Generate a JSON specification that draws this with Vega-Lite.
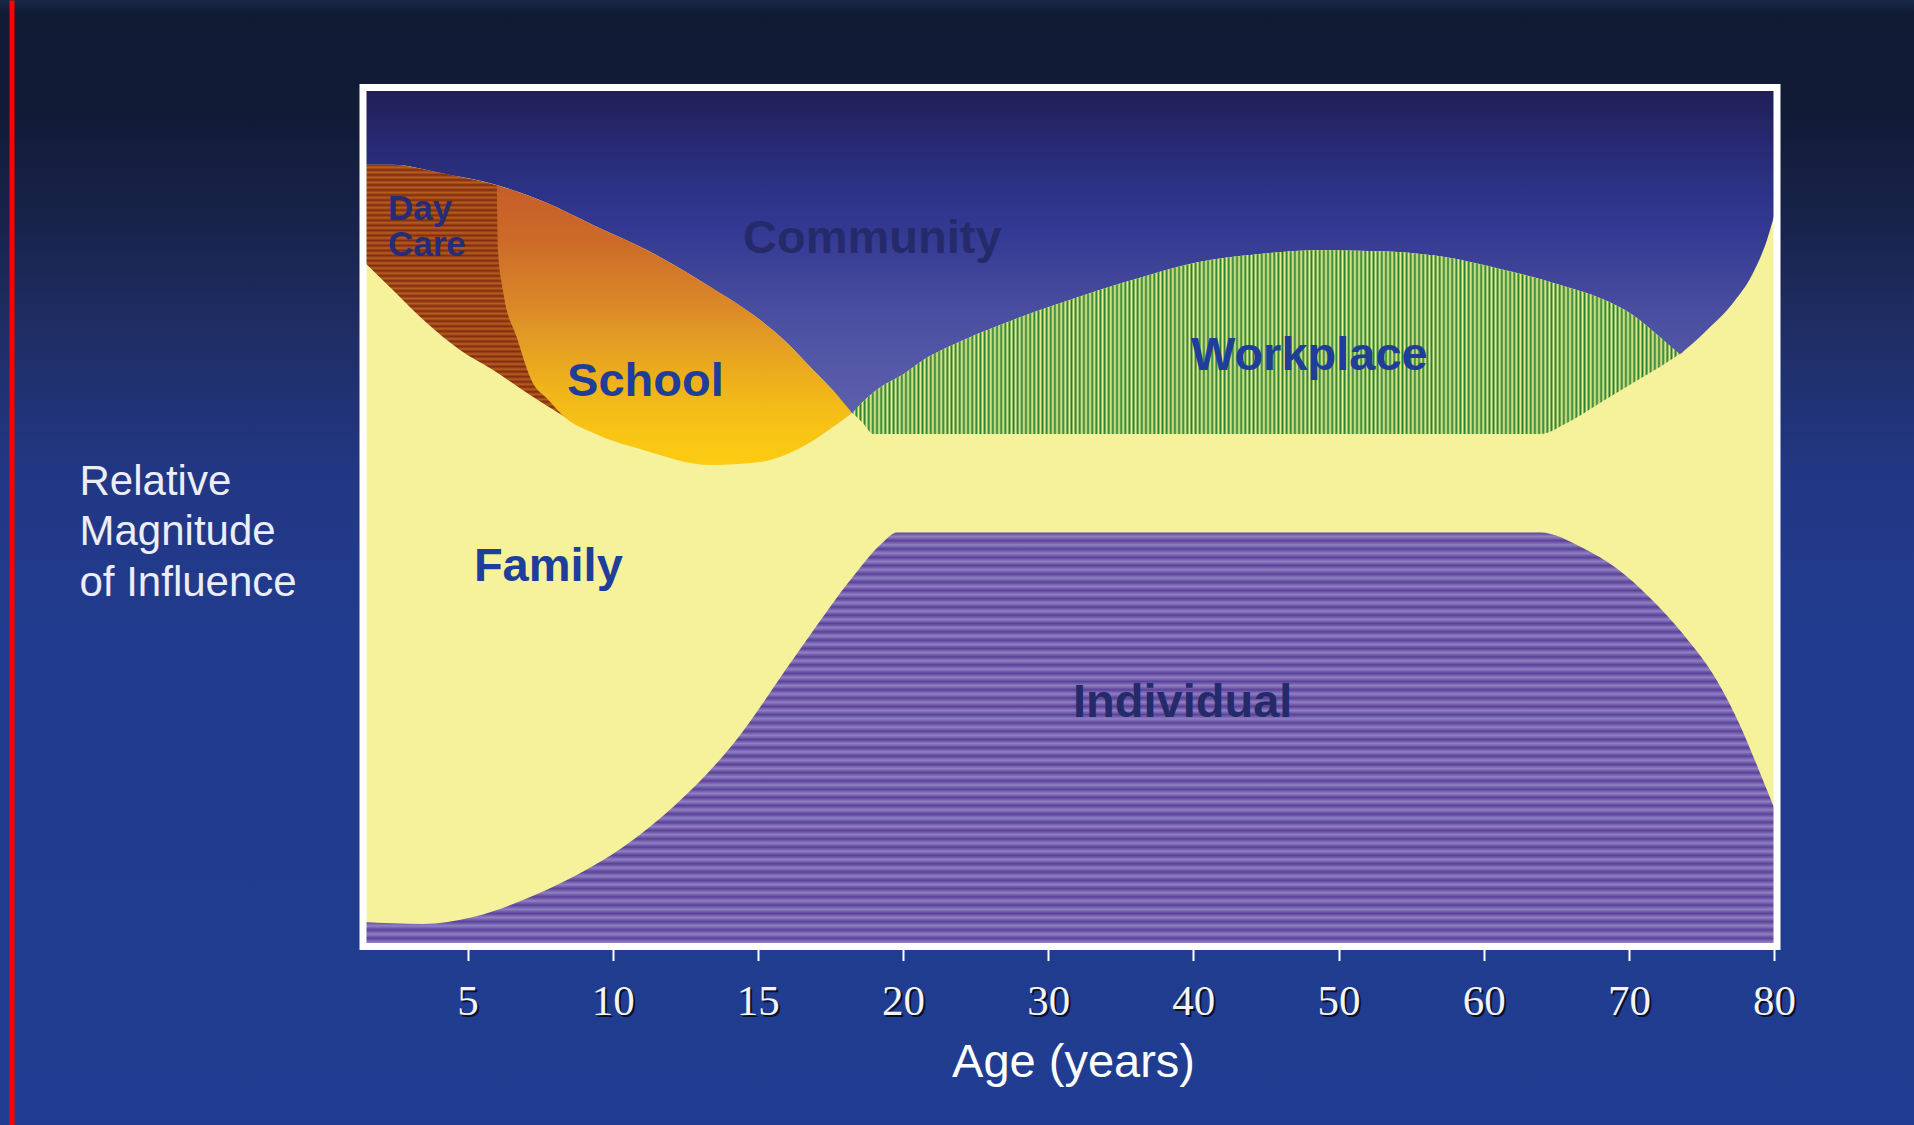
{
"$schema":"https://vega.github.io/schema/vega-lite/v6.json",
"width":1914,"height":1125,"autosize":"none","padding":0,
"background":"#1a2b62",
"view":{"stroke":null,"fill":{"gradient":"linear","x1":0,"y1":0,"x2":0,"y2":1,"stops":[{"offset":0,"color":"#1a2848"},{"offset":0.012,"color":"#101a33"},{"offset":0.1,"color":"#111b36"},{"offset":0.2,"color":"#18234c"},{"offset":0.3,"color":"#1f2e66"},{"offset":0.42,"color":"#223784"},{"offset":0.55,"color":"#213b8d"},{"offset":1,"color":"#203d91"}]}},
"datasets":{
"family":[{"age":1.4,"top":91.0},{"age":2.43,"top":91.0},{"age":4.05,"top":90.05},{"age":6.01,"top":88.65},{"age":7.74,"top":86.55},{"age":9.32,"top":84.0},{"age":11.18,"top":81.08},{"age":13.36,"top":76.78},{"age":15.08,"top":72.93},{"age":16.0,"top":70.3},{"age":16.91,"top":67.1},{"age":17.6,"top":64.7},{"age":18.25,"top":62.1},{"age":18.6,"top":63.35},{"age":18.98,"top":64.5},{"age":19.22,"top":65.1},{"age":20.0,"top":66.6},{"age":21.4,"top":68.28},{"age":24.3,"top":70.7},{"age":27.59,"top":72.95},{"age":30.5,"top":74.7},{"age":33.47,"top":76.4},{"age":36.8,"top":78.1},{"age":40.2,"top":79.63},{"age":44.4,"top":80.6},{"age":48.6,"top":81.06},{"age":52.8,"top":80.95},{"age":57.0,"top":80.35},{"age":61.12,"top":78.88},{"age":63.39,"top":77.94},{"age":63.88,"top":77.7},{"age":65.73,"top":76.78},{"age":68.0,"top":75.49},{"age":70.27,"top":73.52},{"age":72.13,"top":70.95},{"age":73.5,"top":68.97},{"age":73.9,"top":69.5},{"age":75.38,"top":71.77},{"age":77.17,"top":74.91},{"age":78.55,"top":78.41},{"age":79.51,"top":82.25},{"age":80.2,"top":86.3}],
"individual":[{"age":1.4,"top":2.85},{"age":3.46,"top":2.62},{"age":5.19,"top":3.43},{"age":6.91,"top":5.41},{"age":8.63,"top":8.09},{"age":10.36,"top":11.58},{"age":12.08,"top":16.24},{"age":14.12,"top":23.46},{"age":16.22,"top":33.47},{"age":18.35,"top":43.36},{"age":19.2,"top":46.7},{"age":19.8,"top":48.2},{"age":63.88,"top":48.2},{"age":66.83,"top":46.4},{"age":69.17,"top":44.0},{"age":71.44,"top":40.6},{"age":73.71,"top":36.4},{"age":76.05,"top":31.0},{"age":77.64,"top":25.8},{"age":79.01,"top":20.3},{"age":79.92,"top":16.5},{"age":80.2,"top":15.3}],
"daycare":[{"age":1.4,"top":91.0,"bottom":79.84},{"age":2.43,"top":91.0,"bottom":76.43},{"age":3.6,"top":90.4,"bottom":72.58},{"age":4.74,"top":89.6,"bottom":69.44},{"age":5.88,"top":88.75,"bottom":67.11},{"age":7.05,"top":87.4,"bottom":64.43},{"age":8.36,"top":85.6,"bottom":61.64}],
"school":[{"age":6.01,"top":88.65,"bottom":88.6},{"age":6.05,"top":88.6,"bottom":81.1},{"age":6.22,"top":88.4,"bottom":76.4},{"age":6.7,"top":87.9,"bottom":70.9},{"age":7.25,"top":87.2,"bottom":65.6},{"age":7.74,"top":86.55,"bottom":63.8},{"age":8.36,"top":85.6,"bottom":61.6},{"age":9.32,"top":84.0,"bottom":59.8},{"age":11.05,"top":81.3,"bottom":57.8},{"age":13.36,"top":76.8,"bottom":56.05},{"age":15.08,"top":72.93,"bottom":56.4},{"age":16.0,"top":70.3,"bottom":57.3},{"age":16.91,"top":67.1,"bottom":58.9},{"age":17.6,"top":64.7,"bottom":60.5},{"age":18.25,"top":62.1,"bottom":62.1}],
"workplace":[{"age":18.25,"top":62.1,"bottom":62.1},{"age":18.6,"top":63.35,"bottom":61.0},{"age":18.98,"top":64.5,"bottom":59.66},{"age":19.22,"top":65.1,"bottom":59.66},{"age":20.0,"top":66.6,"bottom":59.66},{"age":21.4,"top":68.28,"bottom":59.66},{"age":24.3,"top":70.7,"bottom":59.66},{"age":27.59,"top":72.95,"bottom":59.66},{"age":30.5,"top":74.7,"bottom":59.66},{"age":33.47,"top":76.4,"bottom":59.66},{"age":36.8,"top":78.1,"bottom":59.66},{"age":40.2,"top":79.63,"bottom":59.66},{"age":44.4,"top":80.6,"bottom":59.66},{"age":48.6,"top":81.06,"bottom":59.66},{"age":52.8,"top":80.95,"bottom":59.66},{"age":57.0,"top":80.35,"bottom":59.66},{"age":61.12,"top":78.88,"bottom":59.66},{"age":63.39,"top":77.94,"bottom":59.66},{"age":63.88,"top":77.7,"bottom":59.66},{"age":65.73,"top":76.78,"bottom":60.94},{"age":68.0,"top":75.49,"bottom":63.27},{"age":70.27,"top":73.52,"bottom":65.6},{"age":72.13,"top":70.95,"bottom":67.46},{"age":73.5,"top":68.97,"bottom":68.97}],
"labels":[{"label":"Community","age":14.49,"val":80.73,"grp":"navy"},{"label":"Individual","age":31.71,"val":26.72,"grp":"navy"},{"label":"School","age":8.43,"val":64.09,"grp":"blue"},{"label":"Family","age":5.22,"val":42.55,"grp":"blue"},{"label":"Workplace","age":39.83,"val":67.11,"grp":"blue"},{"label":"Day\nCare","age":2.26,"val":84.57,"grp":"day"}]
},
"resolve":{"axis":{"x":"independent","y":"independent"}},
"layer":[
{"data":{"values":[{}]},
"mark":{"type":"rect","stroke":null,"fill":{"gradient":"linear","x1":0,"y1":0,"x2":0,"y2":1,"stops":[{"offset":0,"color":"#211d55"},{"offset":0.07,"color":"#272a74"},{"offset":0.13,"color":"#2d3489"},{"offset":0.17,"color":"#343a93"},{"offset":0.21,"color":"#3e4298"},{"offset":0.25,"color":"#484c9f"},{"offset":0.31,"color":"#5256a6"},{"offset":0.37,"color":"#5a5eab"},{"offset":0.43,"color":"#5e62ae"},{"offset":1,"color":"#6266b1"}]}},
"encoding":{
"x":{"datum":1.4,"type":"quantitative","scale":{"type":"linear","domain":[1.4,20,80.2],"range":[363,903,1777],"nice":false,"zero":false},"axis":null},
"x2":{"datum":80.2},
"y":{"datum":0,"type":"quantitative","scale":{"domain":[-20.78,110.19],"nice":false,"zero":false},"axis":null},
"y2":{"datum":100}}},
{"data":{"name":"family"},
"mark":{"type":"area","interpolate":"monotone","fill":"#f6f29b","stroke":null},
"encoding":{
"x":{"field":"age","type":"quantitative","scale":{"type":"linear","domain":[1.4,20,80.2],"range":[363,903,1777],"nice":false,"zero":false},
"axis":{"orient":"bottom","offset":-178.5,"values":[5,10,15,20,30,40,50,60,70,80],"domain":false,"grid":false,"ticks":true,"tickOpacity":0,"tickSize":14,"labelPadding":21.5,"labelOffset":2,"labelColor":"#0a1028","labelFont":"Liberation Serif","labelFontSize":43,"labelFlush":false,"labelOverlap":false,"title":null}},
"y":{"field":"top","type":"quantitative","scale":{"domain":[-20.78,110.19],"nice":false,"zero":false},
"axis":{"orient":"left","offset":-11.5,"domain":true,"domainColor":"#ff0000","domainWidth":5,"ticks":false,"labels":false,"grid":false,"title":["Relative","Magnitude","of Influence"],"titleAngle":0,"titleAlign":"left","titleBaseline":"alphabetic","titleX":67.5,"titleY":494,"titleFont":"Liberation Sans","titleFontSize":42,"titleFontWeight":"normal","titleColor":"#ecedf6","titleLineHeight":50.5}},
"y2":{"datum":0}}},
{"data":{"name":"individual"},
"mark":{"type":"area","interpolate":"monotone","stroke":null,"fill":{"gradient":"linear","x1":0,"y1":0,"x2":0,"y2":1,"stops":[{"offset":0,"color":"#5b4199"},{"offset":0.01,"color":"#8f80c3"},{"offset":0.02,"color":"#5b4199"},{"offset":0.03,"color":"#8f80c3"},{"offset":0.04,"color":"#5b4199"},{"offset":0.05,"color":"#8f80c3"},{"offset":0.06,"color":"#5b4199"},{"offset":0.07,"color":"#8f80c3"},{"offset":0.08,"color":"#5b4199"},{"offset":0.09,"color":"#8f80c3"},{"offset":0.1,"color":"#5b4199"},{"offset":0.11,"color":"#8f80c3"},{"offset":0.12,"color":"#5b4199"},{"offset":0.13,"color":"#8f80c3"},{"offset":0.14,"color":"#5b4199"},{"offset":0.15,"color":"#8f80c3"},{"offset":0.16,"color":"#5b4199"},{"offset":0.17,"color":"#8f80c3"},{"offset":0.18,"color":"#5b4199"},{"offset":0.19,"color":"#8f80c3"},{"offset":0.2,"color":"#5b4199"},{"offset":0.21,"color":"#8f80c3"},{"offset":0.22,"color":"#5b4199"},{"offset":0.23,"color":"#8f80c3"},{"offset":0.24,"color":"#5b4199"},{"offset":0.25,"color":"#8f80c3"},{"offset":0.26,"color":"#5b4199"},{"offset":0.27,"color":"#8f80c3"},{"offset":0.28,"color":"#5b4199"},{"offset":0.29,"color":"#8f80c3"},{"offset":0.3,"color":"#5b4199"},{"offset":0.31,"color":"#8f80c3"},{"offset":0.32,"color":"#5b4199"},{"offset":0.33,"color":"#8f80c3"},{"offset":0.34,"color":"#5b4199"},{"offset":0.35,"color":"#8f80c3"},{"offset":0.36,"color":"#5b4199"},{"offset":0.37,"color":"#8f80c3"},{"offset":0.38,"color":"#5b4199"},{"offset":0.39,"color":"#8f80c3"},{"offset":0.4,"color":"#5b4199"},{"offset":0.41,"color":"#8f80c3"},{"offset":0.42,"color":"#5b4199"},{"offset":0.43,"color":"#8f80c3"},{"offset":0.44,"color":"#5b4199"},{"offset":0.45,"color":"#8f80c3"},{"offset":0.46,"color":"#5b4199"},{"offset":0.47,"color":"#8f80c3"},{"offset":0.48,"color":"#5b4199"},{"offset":0.49,"color":"#8f80c3"},{"offset":0.5,"color":"#5b4199"},{"offset":0.51,"color":"#8f80c3"},{"offset":0.52,"color":"#5b4199"},{"offset":0.53,"color":"#8f80c3"},{"offset":0.54,"color":"#5b4199"},{"offset":0.55,"color":"#8f80c3"},{"offset":0.56,"color":"#5b4199"},{"offset":0.57,"color":"#8f80c3"},{"offset":0.58,"color":"#5b4199"},{"offset":0.59,"color":"#8f80c3"},{"offset":0.6,"color":"#5b4199"},{"offset":0.61,"color":"#8f80c3"},{"offset":0.62,"color":"#5b4199"},{"offset":0.63,"color":"#8f80c3"},{"offset":0.64,"color":"#5b4199"},{"offset":0.65,"color":"#8f80c3"},{"offset":0.66,"color":"#5b4199"},{"offset":0.67,"color":"#8f80c3"},{"offset":0.68,"color":"#5b4199"},{"offset":0.69,"color":"#8f80c3"},{"offset":0.7,"color":"#5b4199"},{"offset":0.71,"color":"#8f80c3"},{"offset":0.72,"color":"#5b4199"},{"offset":0.73,"color":"#8f80c3"},{"offset":0.74,"color":"#5b4199"},{"offset":0.75,"color":"#8f80c3"},{"offset":0.76,"color":"#5b4199"},{"offset":0.77,"color":"#8f80c3"},{"offset":0.78,"color":"#5b4199"},{"offset":0.79,"color":"#8f80c3"},{"offset":0.8,"color":"#5b4199"},{"offset":0.81,"color":"#8f80c3"},{"offset":0.82,"color":"#5b4199"},{"offset":0.83,"color":"#8f80c3"},{"offset":0.84,"color":"#5b4199"},{"offset":0.85,"color":"#8f80c3"},{"offset":0.86,"color":"#5b4199"},{"offset":0.87,"color":"#8f80c3"},{"offset":0.88,"color":"#5b4199"},{"offset":0.89,"color":"#8f80c3"},{"offset":0.9,"color":"#5b4199"},{"offset":0.91,"color":"#8f80c3"},{"offset":0.92,"color":"#5b4199"},{"offset":0.93,"color":"#8f80c3"},{"offset":0.94,"color":"#5b4199"},{"offset":0.95,"color":"#8f80c3"},{"offset":0.96,"color":"#5b4199"},{"offset":0.97,"color":"#8f80c3"},{"offset":0.98,"color":"#5b4199"},{"offset":0.99,"color":"#8f80c3"},{"offset":1,"color":"#5b4199"}]}},
"encoding":{
"x":{"field":"age","type":"quantitative","scale":{"type":"linear","domain":[1.4,20,80.2],"range":[363,903,1777],"nice":false,"zero":false},
"axis":{"orient":"bottom","offset":-178.5,"values":[5,10,15,20,30,40,50,60,70,80],"domain":false,"grid":false,"tickColor":"#ffffff","tickWidth":2,"tickSize":14,"labelPadding":19.5,"labelColor":"#f4f4f4","labelFont":"Liberation Serif","labelFontSize":43,"labelFlush":false,"labelOverlap":false,"title":"Age (years)","titleFont":"Liberation Sans","titleFontSize":47,"titleFontWeight":"normal","titleColor":"#ffffff","titleX":1073,"titleY":130,"titleAlign":"center","titleBaseline":"alphabetic"}},
"y":{"field":"top","type":"quantitative","scale":{"domain":[-20.78,110.19],"nice":false,"zero":false},"axis":null},
"y2":{"datum":0}}},
{"data":{"name":"daycare"},
"mark":{"type":"area","interpolate":"monotone","stroke":null,"fill":{"gradient":"linear","x1":0,"y1":0,"x2":0,"y2":1,"stops":[{"offset":0,"color":"#842a10"},{"offset":0.01,"color":"#b4601e"},{"offset":0.02,"color":"#842a10"},{"offset":0.03,"color":"#b4601e"},{"offset":0.04,"color":"#842a10"},{"offset":0.05,"color":"#b4601e"},{"offset":0.06,"color":"#842a10"},{"offset":0.07,"color":"#b4601e"},{"offset":0.08,"color":"#842a10"},{"offset":0.09,"color":"#b4601e"},{"offset":0.1,"color":"#842a10"},{"offset":0.11,"color":"#b4601e"},{"offset":0.12,"color":"#842a10"},{"offset":0.13,"color":"#b4601e"},{"offset":0.14,"color":"#842a10"},{"offset":0.15,"color":"#b4601e"},{"offset":0.16,"color":"#842a10"},{"offset":0.17,"color":"#b4601e"},{"offset":0.18,"color":"#842a10"},{"offset":0.19,"color":"#b4601e"},{"offset":0.2,"color":"#842a10"},{"offset":0.21,"color":"#b4601e"},{"offset":0.22,"color":"#842a10"},{"offset":0.23,"color":"#b4601e"},{"offset":0.24,"color":"#842a10"},{"offset":0.25,"color":"#b4601e"},{"offset":0.26,"color":"#842a10"},{"offset":0.27,"color":"#b4601e"},{"offset":0.28,"color":"#842a10"},{"offset":0.29,"color":"#b4601e"},{"offset":0.3,"color":"#842a10"},{"offset":0.31,"color":"#b4601e"},{"offset":0.32,"color":"#842a10"},{"offset":0.33,"color":"#b4601e"},{"offset":0.34,"color":"#842a10"},{"offset":0.35,"color":"#b4601e"},{"offset":0.36,"color":"#842a10"},{"offset":0.37,"color":"#b4601e"},{"offset":0.38,"color":"#842a10"},{"offset":0.39,"color":"#b4601e"},{"offset":0.4,"color":"#842a10"},{"offset":0.41,"color":"#b4601e"},{"offset":0.42,"color":"#842a10"},{"offset":0.43,"color":"#b4601e"},{"offset":0.44,"color":"#842a10"},{"offset":0.45,"color":"#b4601e"},{"offset":0.46,"color":"#842a10"},{"offset":0.47,"color":"#b4601e"},{"offset":0.48,"color":"#842a10"},{"offset":0.49,"color":"#b4601e"},{"offset":0.5,"color":"#842a10"},{"offset":0.51,"color":"#b4601e"},{"offset":0.52,"color":"#842a10"},{"offset":0.53,"color":"#b4601e"},{"offset":0.54,"color":"#842a10"},{"offset":0.55,"color":"#b4601e"},{"offset":0.56,"color":"#842a10"},{"offset":0.57,"color":"#b4601e"},{"offset":0.58,"color":"#842a10"},{"offset":0.59,"color":"#b4601e"},{"offset":0.6,"color":"#842a10"},{"offset":0.61,"color":"#b4601e"},{"offset":0.62,"color":"#842a10"},{"offset":0.63,"color":"#b4601e"},{"offset":0.64,"color":"#842a10"},{"offset":0.65,"color":"#b4601e"},{"offset":0.66,"color":"#842a10"},{"offset":0.67,"color":"#b4601e"},{"offset":0.68,"color":"#842a10"},{"offset":0.69,"color":"#b4601e"},{"offset":0.7,"color":"#842a10"},{"offset":0.71,"color":"#b4601e"},{"offset":0.72,"color":"#842a10"},{"offset":0.73,"color":"#b4601e"},{"offset":0.74,"color":"#842a10"},{"offset":0.75,"color":"#b4601e"},{"offset":0.76,"color":"#842a10"},{"offset":0.77,"color":"#b4601e"},{"offset":0.78,"color":"#842a10"},{"offset":0.79,"color":"#b4601e"},{"offset":0.8,"color":"#842a10"},{"offset":0.81,"color":"#b4601e"},{"offset":0.82,"color":"#842a10"},{"offset":0.83,"color":"#b4601e"},{"offset":0.84,"color":"#842a10"},{"offset":0.85,"color":"#b4601e"},{"offset":0.86,"color":"#842a10"},{"offset":0.87,"color":"#b4601e"},{"offset":0.88,"color":"#842a10"},{"offset":0.89,"color":"#b4601e"},{"offset":0.9,"color":"#842a10"},{"offset":0.91,"color":"#b4601e"},{"offset":0.92,"color":"#842a10"},{"offset":0.93,"color":"#b4601e"},{"offset":0.94,"color":"#842a10"},{"offset":0.95,"color":"#b4601e"},{"offset":0.96,"color":"#842a10"},{"offset":0.97,"color":"#b4601e"},{"offset":0.98,"color":"#842a10"},{"offset":0.99,"color":"#b4601e"},{"offset":1,"color":"#842a10"}]}},
"encoding":{
"x":{"field":"age","type":"quantitative","scale":{"type":"linear","domain":[1.4,20,80.2],"range":[363,903,1777],"nice":false,"zero":false},"axis":null},
"y":{"field":"top","type":"quantitative","scale":{"domain":[-20.78,110.19],"nice":false,"zero":false},"axis":null},
"y2":{"field":"bottom"}}},
{"data":{"name":"school"},
"mark":{"type":"area","interpolate":"monotone","stroke":null,"fill":{"gradient":"linear","x1":0,"y1":0,"x2":0,"y2":1,"stops":[{"offset":0,"color":"#c65d2a"},{"offset":0.2,"color":"#cd6a28"},{"offset":0.4,"color":"#d98428"},{"offset":0.55,"color":"#e39c24"},{"offset":0.72,"color":"#efb31b"},{"offset":0.87,"color":"#f8c315"},{"offset":1,"color":"#fccb12"}]}},
"encoding":{
"x":{"field":"age","type":"quantitative","scale":{"type":"linear","domain":[1.4,20,80.2],"range":[363,903,1777],"nice":false,"zero":false},"axis":null},
"y":{"field":"top","type":"quantitative","scale":{"domain":[-20.78,110.19],"nice":false,"zero":false},"axis":null},
"y2":{"field":"bottom"}}},
{"data":{"name":"workplace"},
"mark":{"type":"area","interpolate":"monotone","stroke":null,"fill":{"gradient":"linear","x1":0,"y1":0,"x2":1,"y2":0,"stops":[
{"offset":0,"color":"#1e8034"},{"offset":0.0025,"color":"#f2ee8e"},{"offset":0.005,"color":"#1e8034"},{"offset":0.0075,"color":"#f2ee8e"},
{"offset":0.01,"color":"#1e8034"},{"offset":0.0125,"color":"#f2ee8e"},{"offset":0.015,"color":"#1e8034"},{"offset":0.0175,"color":"#f2ee8e"},
{"offset":0.02,"color":"#1e8034"},{"offset":0.0225,"color":"#f2ee8e"},{"offset":0.025,"color":"#1e8034"},{"offset":0.0275,"color":"#f2ee8e"},
{"offset":0.03,"color":"#1e8034"},{"offset":0.0325,"color":"#f2ee8e"},{"offset":0.035,"color":"#1e8034"},{"offset":0.0375,"color":"#f2ee8e"},
{"offset":0.04,"color":"#1e8034"},{"offset":0.0425,"color":"#f2ee8e"},{"offset":0.045,"color":"#1e8034"},{"offset":0.0475,"color":"#f2ee8e"},
{"offset":0.05,"color":"#1e8034"},{"offset":0.0525,"color":"#f2ee8e"},{"offset":0.055,"color":"#1e8034"},{"offset":0.0575,"color":"#f2ee8e"},
{"offset":0.06,"color":"#1e8034"},{"offset":0.0625,"color":"#f2ee8e"},{"offset":0.065,"color":"#1e8034"},{"offset":0.0675,"color":"#f2ee8e"},
{"offset":0.07,"color":"#1e8034"},{"offset":0.0725,"color":"#f2ee8e"},{"offset":0.075,"color":"#1e8034"},{"offset":0.0775,"color":"#f2ee8e"},
{"offset":0.08,"color":"#1e8034"},{"offset":0.0825,"color":"#f2ee8e"},{"offset":0.085,"color":"#1e8034"},{"offset":0.0875,"color":"#f2ee8e"},
{"offset":0.09,"color":"#1e8034"},{"offset":0.0925,"color":"#f2ee8e"},{"offset":0.095,"color":"#1e8034"},{"offset":0.0975,"color":"#f2ee8e"},
{"offset":0.1,"color":"#1e8034"},{"offset":0.1025,"color":"#f2ee8e"},{"offset":0.105,"color":"#1e8034"},{"offset":0.1075,"color":"#f2ee8e"},
{"offset":0.11,"color":"#1e8034"},{"offset":0.1125,"color":"#f2ee8e"},{"offset":0.115,"color":"#1e8034"},{"offset":0.1175,"color":"#f2ee8e"},
{"offset":0.12,"color":"#1e8034"},{"offset":0.1225,"color":"#f2ee8e"},{"offset":0.125,"color":"#1e8034"},{"offset":0.1275,"color":"#f2ee8e"},
{"offset":0.13,"color":"#1e8034"},{"offset":0.1325,"color":"#f2ee8e"},{"offset":0.135,"color":"#1e8034"},{"offset":0.1375,"color":"#f2ee8e"},
{"offset":0.14,"color":"#1e8034"},{"offset":0.1425,"color":"#f2ee8e"},{"offset":0.145,"color":"#1e8034"},{"offset":0.1475,"color":"#f2ee8e"},
{"offset":0.15,"color":"#1e8034"},{"offset":0.1525,"color":"#f2ee8e"},{"offset":0.155,"color":"#1e8034"},{"offset":0.1575,"color":"#f2ee8e"},
{"offset":0.16,"color":"#1e8034"},{"offset":0.1625,"color":"#f2ee8e"},{"offset":0.165,"color":"#1e8034"},{"offset":0.1675,"color":"#f2ee8e"},
{"offset":0.17,"color":"#1e8034"},{"offset":0.1725,"color":"#f2ee8e"},{"offset":0.175,"color":"#1e8034"},{"offset":0.1775,"color":"#f2ee8e"},
{"offset":0.18,"color":"#1e8034"},{"offset":0.1825,"color":"#f2ee8e"},{"offset":0.185,"color":"#1e8034"},{"offset":0.1875,"color":"#f2ee8e"},
{"offset":0.19,"color":"#1e8034"},{"offset":0.1925,"color":"#f2ee8e"},{"offset":0.195,"color":"#1e8034"},{"offset":0.1975,"color":"#f2ee8e"},
{"offset":0.2,"color":"#1e8034"},{"offset":0.2025,"color":"#f2ee8e"},{"offset":0.205,"color":"#1e8034"},{"offset":0.2075,"color":"#f2ee8e"},
{"offset":0.21,"color":"#1e8034"},{"offset":0.2125,"color":"#f2ee8e"},{"offset":0.215,"color":"#1e8034"},{"offset":0.2175,"color":"#f2ee8e"},
{"offset":0.22,"color":"#1e8034"},{"offset":0.2225,"color":"#f2ee8e"},{"offset":0.225,"color":"#1e8034"},{"offset":0.2275,"color":"#f2ee8e"},
{"offset":0.23,"color":"#1e8034"},{"offset":0.2325,"color":"#f2ee8e"},{"offset":0.235,"color":"#1e8034"},{"offset":0.2375,"color":"#f2ee8e"},
{"offset":0.24,"color":"#1e8034"},{"offset":0.2425,"color":"#f2ee8e"},{"offset":0.245,"color":"#1e8034"},{"offset":0.2475,"color":"#f2ee8e"},
{"offset":0.25,"color":"#1e8034"},{"offset":0.2525,"color":"#f2ee8e"},{"offset":0.255,"color":"#1e8034"},{"offset":0.2575,"color":"#f2ee8e"},
{"offset":0.26,"color":"#1e8034"},{"offset":0.2625,"color":"#f2ee8e"},{"offset":0.265,"color":"#1e8034"},{"offset":0.2675,"color":"#f2ee8e"},
{"offset":0.27,"color":"#1e8034"},{"offset":0.2725,"color":"#f2ee8e"},{"offset":0.275,"color":"#1e8034"},{"offset":0.2775,"color":"#f2ee8e"},
{"offset":0.28,"color":"#1e8034"},{"offset":0.2825,"color":"#f2ee8e"},{"offset":0.285,"color":"#1e8034"},{"offset":0.2875,"color":"#f2ee8e"},
{"offset":0.29,"color":"#1e8034"},{"offset":0.2925,"color":"#f2ee8e"},{"offset":0.295,"color":"#1e8034"},{"offset":0.2975,"color":"#f2ee8e"},
{"offset":0.3,"color":"#1e8034"},{"offset":0.3025,"color":"#f2ee8e"},{"offset":0.305,"color":"#1e8034"},{"offset":0.3075,"color":"#f2ee8e"},
{"offset":0.31,"color":"#1e8034"},{"offset":0.3125,"color":"#f2ee8e"},{"offset":0.315,"color":"#1e8034"},{"offset":0.3175,"color":"#f2ee8e"},
{"offset":0.32,"color":"#1e8034"},{"offset":0.3225,"color":"#f2ee8e"},{"offset":0.325,"color":"#1e8034"},{"offset":0.3275,"color":"#f2ee8e"},
{"offset":0.33,"color":"#1e8034"},{"offset":0.3325,"color":"#f2ee8e"},{"offset":0.335,"color":"#1e8034"},{"offset":0.3375,"color":"#f2ee8e"},
{"offset":0.34,"color":"#1e8034"},{"offset":0.3425,"color":"#f2ee8e"},{"offset":0.345,"color":"#1e8034"},{"offset":0.3475,"color":"#f2ee8e"},
{"offset":0.35,"color":"#1e8034"},{"offset":0.3525,"color":"#f2ee8e"},{"offset":0.355,"color":"#1e8034"},{"offset":0.3575,"color":"#f2ee8e"},
{"offset":0.36,"color":"#1e8034"},{"offset":0.3625,"color":"#f2ee8e"},{"offset":0.365,"color":"#1e8034"},{"offset":0.3675,"color":"#f2ee8e"},
{"offset":0.37,"color":"#1e8034"},{"offset":0.3725,"color":"#f2ee8e"},{"offset":0.375,"color":"#1e8034"},{"offset":0.3775,"color":"#f2ee8e"},
{"offset":0.38,"color":"#1e8034"},{"offset":0.3825,"color":"#f2ee8e"},{"offset":0.385,"color":"#1e8034"},{"offset":0.3875,"color":"#f2ee8e"},
{"offset":0.39,"color":"#1e8034"},{"offset":0.3925,"color":"#f2ee8e"},{"offset":0.395,"color":"#1e8034"},{"offset":0.3975,"color":"#f2ee8e"},
{"offset":0.4,"color":"#1e8034"},{"offset":0.4025,"color":"#f2ee8e"},{"offset":0.405,"color":"#1e8034"},{"offset":0.4075,"color":"#f2ee8e"},
{"offset":0.41,"color":"#1e8034"},{"offset":0.4125,"color":"#f2ee8e"},{"offset":0.415,"color":"#1e8034"},{"offset":0.4175,"color":"#f2ee8e"},
{"offset":0.42,"color":"#1e8034"},{"offset":0.4225,"color":"#f2ee8e"},{"offset":0.425,"color":"#1e8034"},{"offset":0.4275,"color":"#f2ee8e"},
{"offset":0.43,"color":"#1e8034"},{"offset":0.4325,"color":"#f2ee8e"},{"offset":0.435,"color":"#1e8034"},{"offset":0.4375,"color":"#f2ee8e"},
{"offset":0.44,"color":"#1e8034"},{"offset":0.4425,"color":"#f2ee8e"},{"offset":0.445,"color":"#1e8034"},{"offset":0.4475,"color":"#f2ee8e"},
{"offset":0.45,"color":"#1e8034"},{"offset":0.4525,"color":"#f2ee8e"},{"offset":0.455,"color":"#1e8034"},{"offset":0.4575,"color":"#f2ee8e"},
{"offset":0.46,"color":"#1e8034"},{"offset":0.4625,"color":"#f2ee8e"},{"offset":0.465,"color":"#1e8034"},{"offset":0.4675,"color":"#f2ee8e"},
{"offset":0.47,"color":"#1e8034"},{"offset":0.4725,"color":"#f2ee8e"},{"offset":0.475,"color":"#1e8034"},{"offset":0.4775,"color":"#f2ee8e"},
{"offset":0.48,"color":"#1e8034"},{"offset":0.4825,"color":"#f2ee8e"},{"offset":0.485,"color":"#1e8034"},{"offset":0.4875,"color":"#f2ee8e"},
{"offset":0.49,"color":"#1e8034"},{"offset":0.4925,"color":"#f2ee8e"},{"offset":0.495,"color":"#1e8034"},{"offset":0.4975,"color":"#f2ee8e"},
{"offset":0.5,"color":"#1e8034"},{"offset":0.5025,"color":"#f2ee8e"},{"offset":0.505,"color":"#1e8034"},{"offset":0.5075,"color":"#f2ee8e"},
{"offset":0.51,"color":"#1e8034"},{"offset":0.5125,"color":"#f2ee8e"},{"offset":0.515,"color":"#1e8034"},{"offset":0.5175,"color":"#f2ee8e"},
{"offset":0.52,"color":"#1e8034"},{"offset":0.5225,"color":"#f2ee8e"},{"offset":0.525,"color":"#1e8034"},{"offset":0.5275,"color":"#f2ee8e"},
{"offset":0.53,"color":"#1e8034"},{"offset":0.5325,"color":"#f2ee8e"},{"offset":0.535,"color":"#1e8034"},{"offset":0.5375,"color":"#f2ee8e"},
{"offset":0.54,"color":"#1e8034"},{"offset":0.5425,"color":"#f2ee8e"},{"offset":0.545,"color":"#1e8034"},{"offset":0.5475,"color":"#f2ee8e"},
{"offset":0.55,"color":"#1e8034"},{"offset":0.5525,"color":"#f2ee8e"},{"offset":0.555,"color":"#1e8034"},{"offset":0.5575,"color":"#f2ee8e"},
{"offset":0.56,"color":"#1e8034"},{"offset":0.5625,"color":"#f2ee8e"},{"offset":0.565,"color":"#1e8034"},{"offset":0.5675,"color":"#f2ee8e"},
{"offset":0.57,"color":"#1e8034"},{"offset":0.5725,"color":"#f2ee8e"},{"offset":0.575,"color":"#1e8034"},{"offset":0.5775,"color":"#f2ee8e"},
{"offset":0.58,"color":"#1e8034"},{"offset":0.5825,"color":"#f2ee8e"},{"offset":0.585,"color":"#1e8034"},{"offset":0.5875,"color":"#f2ee8e"},
{"offset":0.59,"color":"#1e8034"},{"offset":0.5925,"color":"#f2ee8e"},{"offset":0.595,"color":"#1e8034"},{"offset":0.5975,"color":"#f2ee8e"},
{"offset":0.6,"color":"#1e8034"},{"offset":0.6025,"color":"#f2ee8e"},{"offset":0.605,"color":"#1e8034"},{"offset":0.6075,"color":"#f2ee8e"},
{"offset":0.61,"color":"#1e8034"},{"offset":0.6125,"color":"#f2ee8e"},{"offset":0.615,"color":"#1e8034"},{"offset":0.6175,"color":"#f2ee8e"},
{"offset":0.62,"color":"#1e8034"},{"offset":0.6225,"color":"#f2ee8e"},{"offset":0.625,"color":"#1e8034"},{"offset":0.6275,"color":"#f2ee8e"},
{"offset":0.63,"color":"#1e8034"},{"offset":0.6325,"color":"#f2ee8e"},{"offset":0.635,"color":"#1e8034"},{"offset":0.6375,"color":"#f2ee8e"},
{"offset":0.64,"color":"#1e8034"},{"offset":0.6425,"color":"#f2ee8e"},{"offset":0.645,"color":"#1e8034"},{"offset":0.6475,"color":"#f2ee8e"},
{"offset":0.65,"color":"#1e8034"},{"offset":0.6525,"color":"#f2ee8e"},{"offset":0.655,"color":"#1e8034"},{"offset":0.6575,"color":"#f2ee8e"},
{"offset":0.66,"color":"#1e8034"},{"offset":0.6625,"color":"#f2ee8e"},{"offset":0.665,"color":"#1e8034"},{"offset":0.6675,"color":"#f2ee8e"},
{"offset":0.67,"color":"#1e8034"},{"offset":0.6725,"color":"#f2ee8e"},{"offset":0.675,"color":"#1e8034"},{"offset":0.6775,"color":"#f2ee8e"},
{"offset":0.68,"color":"#1e8034"},{"offset":0.6825,"color":"#f2ee8e"},{"offset":0.685,"color":"#1e8034"},{"offset":0.6875,"color":"#f2ee8e"},
{"offset":0.69,"color":"#1e8034"},{"offset":0.6925,"color":"#f2ee8e"},{"offset":0.695,"color":"#1e8034"},{"offset":0.6975,"color":"#f2ee8e"},
{"offset":0.7,"color":"#1e8034"},{"offset":0.7025,"color":"#f2ee8e"},{"offset":0.705,"color":"#1e8034"},{"offset":0.7075,"color":"#f2ee8e"},
{"offset":0.71,"color":"#1e8034"},{"offset":0.7125,"color":"#f2ee8e"},{"offset":0.715,"color":"#1e8034"},{"offset":0.7175,"color":"#f2ee8e"},
{"offset":0.72,"color":"#1e8034"},{"offset":0.7225,"color":"#f2ee8e"},{"offset":0.725,"color":"#1e8034"},{"offset":0.7275,"color":"#f2ee8e"},
{"offset":0.73,"color":"#1e8034"},{"offset":0.7325,"color":"#f2ee8e"},{"offset":0.735,"color":"#1e8034"},{"offset":0.7375,"color":"#f2ee8e"},
{"offset":0.74,"color":"#1e8034"},{"offset":0.7425,"color":"#f2ee8e"},{"offset":0.745,"color":"#1e8034"},{"offset":0.7475,"color":"#f2ee8e"},
{"offset":0.75,"color":"#1e8034"},{"offset":0.7525,"color":"#f2ee8e"},{"offset":0.755,"color":"#1e8034"},{"offset":0.7575,"color":"#f2ee8e"},
{"offset":0.76,"color":"#1e8034"},{"offset":0.7625,"color":"#f2ee8e"},{"offset":0.765,"color":"#1e8034"},{"offset":0.7675,"color":"#f2ee8e"},
{"offset":0.77,"color":"#1e8034"},{"offset":0.7725,"color":"#f2ee8e"},{"offset":0.775,"color":"#1e8034"},{"offset":0.7775,"color":"#f2ee8e"},
{"offset":0.78,"color":"#1e8034"},{"offset":0.7825,"color":"#f2ee8e"},{"offset":0.785,"color":"#1e8034"},{"offset":0.7875,"color":"#f2ee8e"},
{"offset":0.79,"color":"#1e8034"},{"offset":0.7925,"color":"#f2ee8e"},{"offset":0.795,"color":"#1e8034"},{"offset":0.7975,"color":"#f2ee8e"},
{"offset":0.8,"color":"#1e8034"},{"offset":0.8025,"color":"#f2ee8e"},{"offset":0.805,"color":"#1e8034"},{"offset":0.8075,"color":"#f2ee8e"},
{"offset":0.81,"color":"#1e8034"},{"offset":0.8125,"color":"#f2ee8e"},{"offset":0.815,"color":"#1e8034"},{"offset":0.8175,"color":"#f2ee8e"},
{"offset":0.82,"color":"#1e8034"},{"offset":0.8225,"color":"#f2ee8e"},{"offset":0.825,"color":"#1e8034"},{"offset":0.8275,"color":"#f2ee8e"},
{"offset":0.83,"color":"#1e8034"},{"offset":0.8325,"color":"#f2ee8e"},{"offset":0.835,"color":"#1e8034"},{"offset":0.8375,"color":"#f2ee8e"},
{"offset":0.84,"color":"#1e8034"},{"offset":0.8425,"color":"#f2ee8e"},{"offset":0.845,"color":"#1e8034"},{"offset":0.8475,"color":"#f2ee8e"},
{"offset":0.85,"color":"#1e8034"},{"offset":0.8525,"color":"#f2ee8e"},{"offset":0.855,"color":"#1e8034"},{"offset":0.8575,"color":"#f2ee8e"},
{"offset":0.86,"color":"#1e8034"},{"offset":0.8625,"color":"#f2ee8e"},{"offset":0.865,"color":"#1e8034"},{"offset":0.8675,"color":"#f2ee8e"},
{"offset":0.87,"color":"#1e8034"},{"offset":0.8725,"color":"#f2ee8e"},{"offset":0.875,"color":"#1e8034"},{"offset":0.8775,"color":"#f2ee8e"},
{"offset":0.88,"color":"#1e8034"},{"offset":0.8825,"color":"#f2ee8e"},{"offset":0.885,"color":"#1e8034"},{"offset":0.8875,"color":"#f2ee8e"},
{"offset":0.89,"color":"#1e8034"},{"offset":0.8925,"color":"#f2ee8e"},{"offset":0.895,"color":"#1e8034"},{"offset":0.8975,"color":"#f2ee8e"},
{"offset":0.9,"color":"#1e8034"},{"offset":0.9025,"color":"#f2ee8e"},{"offset":0.905,"color":"#1e8034"},{"offset":0.9075,"color":"#f2ee8e"},
{"offset":0.91,"color":"#1e8034"},{"offset":0.9125,"color":"#f2ee8e"},{"offset":0.915,"color":"#1e8034"},{"offset":0.9175,"color":"#f2ee8e"},
{"offset":0.92,"color":"#1e8034"},{"offset":0.9225,"color":"#f2ee8e"},{"offset":0.925,"color":"#1e8034"},{"offset":0.9275,"color":"#f2ee8e"},
{"offset":0.93,"color":"#1e8034"},{"offset":0.9325,"color":"#f2ee8e"},{"offset":0.935,"color":"#1e8034"},{"offset":0.9375,"color":"#f2ee8e"},
{"offset":0.94,"color":"#1e8034"},{"offset":0.9425,"color":"#f2ee8e"},{"offset":0.945,"color":"#1e8034"},{"offset":0.9475,"color":"#f2ee8e"},
{"offset":0.95,"color":"#1e8034"},{"offset":0.9525,"color":"#f2ee8e"},{"offset":0.955,"color":"#1e8034"},{"offset":0.9575,"color":"#f2ee8e"},
{"offset":0.96,"color":"#1e8034"},{"offset":0.9625,"color":"#f2ee8e"},{"offset":0.965,"color":"#1e8034"},{"offset":0.9675,"color":"#f2ee8e"},
{"offset":0.97,"color":"#1e8034"},{"offset":0.9725,"color":"#f2ee8e"},{"offset":0.975,"color":"#1e8034"},{"offset":0.9775,"color":"#f2ee8e"},
{"offset":0.98,"color":"#1e8034"},{"offset":0.9825,"color":"#f2ee8e"},{"offset":0.985,"color":"#1e8034"},{"offset":0.9875,"color":"#f2ee8e"},
{"offset":0.99,"color":"#1e8034"},{"offset":0.9925,"color":"#f2ee8e"},{"offset":0.995,"color":"#1e8034"},{"offset":0.9975,"color":"#f2ee8e"},
{"offset":1,"color":"#1e8034"}]}},
"encoding":{
"x":{"field":"age","type":"quantitative","scale":{"type":"linear","domain":[1.4,20,80.2],"range":[363,903,1777],"nice":false,"zero":false},"axis":null},
"y":{"field":"top","type":"quantitative","scale":{"domain":[-20.78,110.19],"nice":false,"zero":false},"axis":null},
"y2":{"field":"bottom"}}},
{"data":{"name":"labels"},"transform":[{"filter":"datum.grp === 'navy'"}],
"mark":{"type":"text","align":"left","baseline":"alphabetic","font":"Liberation Sans","fontWeight":"bold","fontSize":47,"color":"#252a6b"},
"encoding":{
"x":{"field":"age","type":"quantitative","scale":{"type":"linear","domain":[1.4,20,80.2],"range":[363,903,1777],"nice":false,"zero":false},"axis":null},
"y":{"field":"val","type":"quantitative","scale":{"domain":[-20.78,110.19],"nice":false,"zero":false},"axis":null},
"text":{"field":"label"}}},
{"data":{"name":"labels"},"transform":[{"filter":"datum.grp === 'blue'"}],
"mark":{"type":"text","align":"left","baseline":"alphabetic","font":"Liberation Sans","fontWeight":"bold","fontSize":47,"color":"#1f3e99"},
"encoding":{
"x":{"field":"age","type":"quantitative","scale":{"type":"linear","domain":[1.4,20,80.2],"range":[363,903,1777],"nice":false,"zero":false},"axis":null},
"y":{"field":"val","type":"quantitative","scale":{"domain":[-20.78,110.19],"nice":false,"zero":false},"axis":null},
"text":{"field":"label"}}},
{"data":{"name":"labels"},"transform":[{"filter":"datum.grp === 'day'"}],
"mark":{"type":"text","align":"left","baseline":"alphabetic","font":"Liberation Sans","fontWeight":"bold","fontSize":35,"lineHeight":36,"lineBreak":"\n","color":"#252d78"},
"encoding":{
"x":{"field":"age","type":"quantitative","scale":{"type":"linear","domain":[1.4,20,80.2],"range":[363,903,1777],"nice":false,"zero":false},"axis":null},
"y":{"field":"val","type":"quantitative","scale":{"domain":[-20.78,110.19],"nice":false,"zero":false},"axis":null},
"text":{"field":"label"}}},
{"data":{"values":[{}]},
"mark":{"type":"rect","filled":false,"stroke":"#ffffff","strokeWidth":7},
"encoding":{
"x":{"datum":1.4,"type":"quantitative","scale":{"type":"linear","domain":[1.4,20,80.2],"range":[363,903,1777],"nice":false,"zero":false},"axis":null},
"x2":{"datum":80.2},
"y":{"datum":0,"type":"quantitative","scale":{"domain":[-20.78,110.19],"nice":false,"zero":false},"axis":null},
"y2":{"datum":100}}}
]
}
